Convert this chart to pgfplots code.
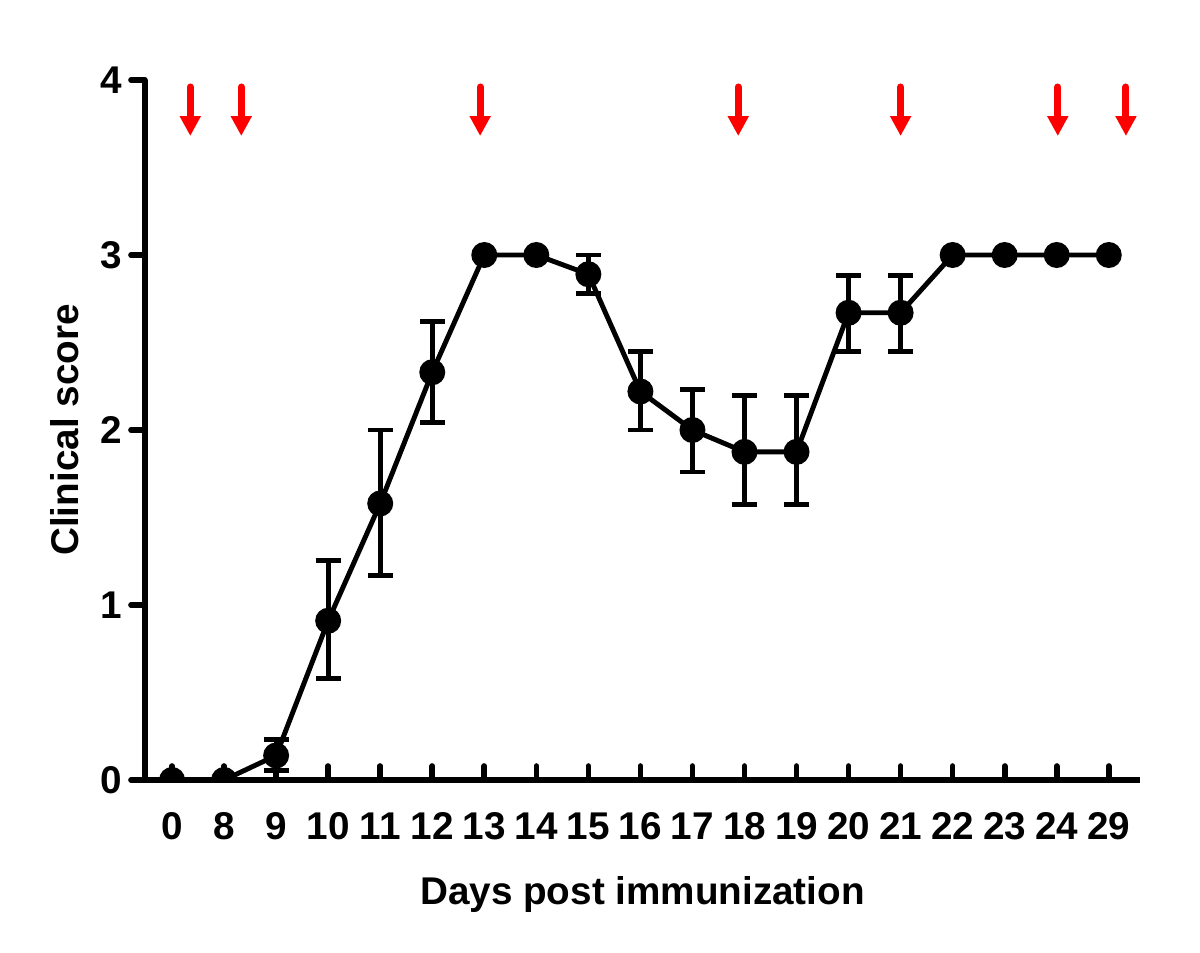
\documentclass[border=0pt]{standalone}
\usepackage{fontspec}
\setmainfont{Liberation Sans}
\usepackage{pgfplots}
\pgfplotsset{compat=1.18}
\usetikzlibrary{arrows.meta}

\pgfplotstableread{
x y
0 0
1 0
2 0.14
3 0.91
4 1.58
5 2.33
6 3
7 3
8 2.89
9 2.22
10 2.0
11 1.875
12 1.875
13 2.67
14 2.67
15 3
16 3
17 3
18 3
}\score

% only the points that carry an error bar
\pgfplotstableread{
x y ep em
2 0.14 0.09 0.085
3 0.91 0.345 0.33
4 1.58 0.42 0.41
5 2.33 0.29 0.285
8 2.89 0.11 0.11
9 2.22 0.23 0.22
10 2.0 0.23 0.24
11 1.875 0.32 0.30
12 1.875 0.32 0.30
13 2.67 0.215 0.22
14 2.67 0.215 0.22
}\errs

\pgfplotstableread{
x y v
0.35 3.96 -0.28
1.33 3.96 -0.28
5.92 3.96 -0.28
10.88 3.96 -0.28
14.0 3.96 -0.28
17.02 3.96 -0.28
18.33 3.96 -0.28
}\arrows

\begin{document}
\begin{tikzpicture}
\path[use as bounding box] (-14.5mm,-17.3mm) rectangle (105.5mm,78mm);
\begin{axis}[
  at={(0,0)},anchor=south west,
  scale only axis,width=99.5mm,height=70mm,
  xmin=-0.52,xmax=18.6,ymin=0,ymax=4,
  axis lines=left,
  axis line style={line width=1.7pt,-},
  xtick={0,...,18},
  xticklabels={0,8,9,10,11,12,13,14,15,16,17,18,19,20,21,22,23,24,29},
  ytick={0,1,2,3,4},
  xtick align=inside,ytick align=outside,
  major tick length=1.4mm,
  tick style={line width=1.6pt,black,line cap=round},
  tick label style={font=\fontsize{11}{13}\selectfont\bfseries},
  /pgf/number format/assume math mode=true,
  xticklabel style={yshift=-2mm},
  yticklabel style={xshift=0.3mm},
  xlabel={Days post immunization},
  ylabel={Clinical score},
  label style={font=\fontsize{11}{13}\selectfont\bfseries},
  xlabel style={yshift=-1.3mm},
  ylabel style={yshift=-0.3mm},
  clip marker paths=true,
]
\addplot[draw=none,forget plot,
  error bars/.cd,y dir=both,y explicit,
  error bar style={line width=1.4pt,black},
  error mark options={rotate=90,mark size=1.25mm,line width=1.4pt,black}]
  table[x=x,y=y,y error plus=ep,y error minus=em] {\errs};
\addplot[black,line width=1.4pt,mark=*,mark size=1.05mm,mark options={solid,fill=black}]
  table[x=x,y=y] {\score};
\addplot[red,line width=2pt,line cap=round,-{Triangle[width=2mm,length=2mm]},
  quiver={u=0,v=\thisrow{v}}] table[x=x,y=y] {\arrows};
\end{axis}
\end{tikzpicture}
\end{document}
